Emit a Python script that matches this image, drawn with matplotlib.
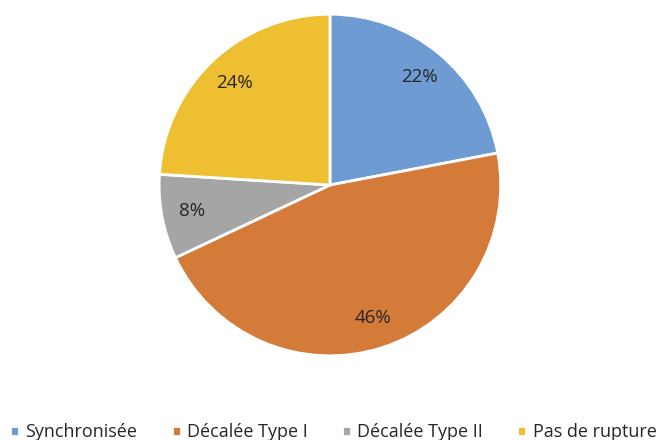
import matplotlib.pyplot as plt

# data
labels = ['Synchronisée', 'Décalée Type I', 'Décalée Type II', 'Pas de rupture']
values = [22, 46, 8, 24]
colors = ['#6F9BD3', '#D57B3A', '#A5A5A5', '#EEBF30']

plt.rcParams['font.family'] = ['Open Sans', 'DejaVu Sans']

fig = plt.figure(figsize=(6.6, 4.4), dpi=100)
ax = fig.add_axes([0.2424, 0.193, 0.515, 0.773])

wedges, texts, autotexts = ax.pie(
    values, colors=colors, startangle=90, counterclock=False,
    autopct='%1.0f%%', pctdistance=0.82,
    wedgeprops=dict(edgecolor='white', linewidth=2),
    textprops=dict(fontsize=13.5, color='#262626'))
ax.set_xlim(-0.995, 0.995)
ax.set_ylim(-0.995, 0.995)
ax.set_aspect('equal')

fig.legend(wedges, labels, loc='center', bbox_to_anchor=(0.505, 0.018), ncol=4,
           frameon=False, fontsize=13, handlelength=0.5, handleheight=0.5,
           handletextpad=0.35, columnspacing=1.9, labelcolor='#262626',
           borderaxespad=0, borderpad=0)

fig.savefig('out.png', dpi=100)
